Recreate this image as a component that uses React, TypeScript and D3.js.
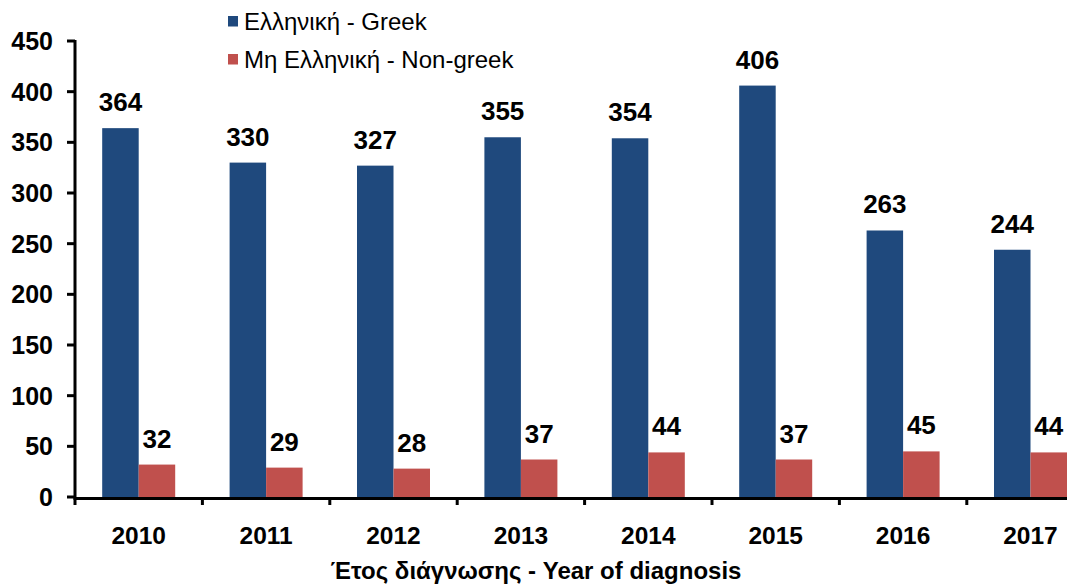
import React from "react";
import * as d3 from "d3";

const years = ["2010", "2011", "2012", "2013", "2014", "2015", "2016", "2017"];
const greek = [364, 330, 327, 355, 354, 406, 263, 244];
const nonGreek = [32, 29, 28, 37, 44, 37, 45, 44];
const seriesNames = ["Ελληνική - Greek", "Μη Ελληνική - Non-greek"];
const seriesColors = ["#1F497D", "#C0504D"];
const yTicks = [0, 50, 100, 150, 200, 250, 300, 350, 400, 450];
const xTitle = "Έτος διάγνωσης - Year of diagnosis";

const W = 1067;
const H = 584;
const FONT = "'Liberation Sans', Arial, Helvetica, sans-serif";

export default function App() {
  const left = 75;
  const bandW = 127.4;
  const x0 = d3.scaleBand<string>().domain(years).range([left, left + bandW * years.length]).padding(0);
  const gap = 27.2;
  const x1 = d3.scaleBand<string>().domain(["g", "n"]).range([gap, x0.bandwidth() - gap]).padding(0);
  const y = d3.scaleLinear().domain([0, 450]).range([497, 41]);

  const series = [
    { key: "g", values: greek, color: seriesColors[0] },
    { key: "n", values: nonGreek, color: seriesColors[1] },
  ];

  const boundaries = years.map((yr) => (x0(yr) as number) + x0.bandwidth());

  return (
    <svg
      width={W}
      height={H}
      style={{ position: "absolute", left: 0, top: 0, background: "#fff" }}
      fontFamily={FONT}
    >
      <rect x={0} y={0} width={W} height={H} fill="#fff" />
      {/* bars */}
      {series.map((s) =>
        years.map((yr, i) => {
          const bx = (x0(yr) as number) + (x1(s.key) as number);
          const by = y(s.values[i]);
          return (
            <rect
              key={s.key + yr}
              x={bx}
              y={by}
              width={x1.bandwidth()}
              height={y(0) - by}
              fill={s.color}
            />
          );
        })
      )}
      {/* value labels */}
      {series.map((s) =>
        years.map((yr, i) => {
          const bx = (x0(yr) as number) + (x1(s.key) as number) + x1.bandwidth() / 2;
          return (
            <text
              key={"l" + s.key + yr}
              x={bx}
              y={y(s.values[i]) - 17}
              textAnchor="middle"
              fontSize={26}
              fontWeight="bold"
              fill="#000"
            >
              {s.values[i]}
            </text>
          );
        })
      )}
      {/* y axis */}
      <line x1={75} x2={75} y1={y(450) - 1} y2={505} stroke="#000" strokeWidth={3} />
      {yTicks.map((t) => (
        <g key={"yt" + t}>
          <line x1={67} x2={75} y1={y(t)} y2={y(t)} stroke="#000" strokeWidth={3} />
          <text
            x={53}
            y={y(t) + 9}
            textAnchor="end"
            fontSize={25}
            fontWeight="bold"
            fill="#000"
          >
            {t}
          </text>
        </g>
      ))}
      {/* x axis */}
      <line x1={73.5} x2={W} y1={498.5} y2={498.5} stroke="#000" strokeWidth={3} />
      {boundaries.map((bx, i) => (
        <line key={"xt" + i} x1={bx} x2={bx} y1={498} y2={505} stroke="#000" strokeWidth={3} />
      ))}
      {years.map((yr) => (
        <text
          key={"xl" + yr}
          x={(x0(yr) as number) + x0.bandwidth() / 2}
          y={544}
          textAnchor="middle"
          fontSize={24.5}
          fontWeight="bold"
          fill="#000"
        >
          {yr}
        </text>
      ))}
      <text x={536} y={579} textAnchor="middle" fontSize={24} fontWeight="bold" fill="#000">
        {xTitle}
      </text>
      {/* legend */}
      {seriesNames.map((name, i) => (
        <g key={"lg" + i}>
          <rect x={228} y={16 + i * 38} width={10} height={10.5} fill={seriesColors[i]} />
          <text x={244} y={30 + i * 38} fontSize={24} fill="#000">
            {name}
          </text>
        </g>
      ))}
    </svg>
  );
}
